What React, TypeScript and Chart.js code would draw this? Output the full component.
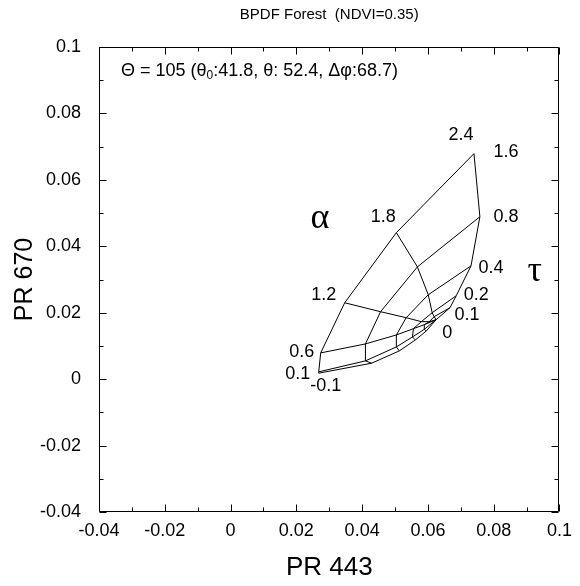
import React, { useEffect, useRef } from "react";
import { Chart, registerables } from "chart.js";

Chart.register(...registerables);

// ---- data ----
const alphaValues = ["-0.1", "0.1", "0.6", "1.2", "1.8", "2.4"];
const tauValues = ["0", "0.1", "0.2", "0.4", "0.8", "1.6"];

// PR 443 / PR 670 for each Angstrom exponent, ordered by tau (0, 0.1, 0.2, 0.4, 0.8, 1.6)
const pr443AlphaM01 = [0.0625, 0.0595, 0.0562, 0.0513, 0.0429, 0.0268];
const pr670AlphaM01 = [0.0179, 0.0145, 0.0118, 0.0085, 0.0048, 0.0018];
const pr443Alpha01 = [0.0625, 0.0589, 0.0553, 0.0504, 0.041, 0.0268];
const pr670Alpha01 = [0.0179, 0.015, 0.0127, 0.0097, 0.0055, 0.0022];
const pr443Alpha06 = [0.0625, 0.0589, 0.0556, 0.0504, 0.041, 0.0274];
const pr670Alpha06 = [0.0179, 0.0164, 0.0152, 0.0133, 0.0106, 0.0079];
const pr443Alpha12 = [0.0625, 0.0604, 0.058, 0.0534, 0.0456, 0.0347];
const pr670Alpha12 = [0.0179, 0.0173, 0.0173, 0.0185, 0.0203, 0.023];
const pr443Alpha18 = [0.0625, 0.0619, 0.0613, 0.0601, 0.0568, 0.0504];
const pr670Alpha18 = [0.0179, 0.0188, 0.02, 0.0254, 0.0338, 0.0441];
const pr443Alpha24 = [0.0625, 0.0667, 0.0686, 0.0731, 0.0758, 0.074];
const pr670Alpha24 = [0.0179, 0.0215, 0.0251, 0.0341, 0.0489, 0.0679];

const xTickLabels = ["-0.04", "-0.02", "0", "0.02", "0.04", "0.06", "0.08", "0.1"];
const yTickLabels = ["-0.04", "-0.02", "0", "0.02", "0.04", "0.06", "0.08", "0.1"];

const chartTitle = "BPDF Forest  (NDVI=0.35)";
const xTitle = "PR 443";
const yTitle = "PR 670";

const SANS = "'Liberation Sans', Arial, Helvetica, sans-serif";
const SERIF = "'Liberation Serif', 'DejaVu Serif', serif";

export default function App() {
  const ref = useRef<HTMLCanvasElement>(null);

  useEffect(() => {
    const canvas = ref.current;
    if (!canvas) return;
    const pr443 = [pr443AlphaM01, pr443Alpha01, pr443Alpha06, pr443Alpha12, pr443Alpha18, pr443Alpha24];
    const pr670 = [pr670AlphaM01, pr670Alpha01, pr670Alpha06, pr670Alpha12, pr670Alpha18, pr670Alpha24];

    const lineStyle = {
      showLine: true,
      borderColor: "#000",
      backgroundColor: "#000",
      borderWidth: 1,
      pointRadius: 0,
      pointHoverRadius: 0,
      fill: false,
      tension: 0,
    };
    const datasets: any[] = [];
    pr443.forEach((xs, i) => {
      datasets.push({
        ...lineStyle,
        label: "alpha " + alphaValues[i],
        data: xs.map((x, j) => ({ x, y: pr670[i][j] })),
      });
    });
    for (let j = 1; j < tauValues.length; j++) {
      datasets.push({
        ...lineStyle,
        label: "tau " + tauValues[j],
        data: pr443.map((xs, i) => ({ x: xs[j], y: pr670[i][j] })),
      });
    }

    // label offsets (pixels) from the vertex they annotate
    const alphaLabelOffsets = [
      [7, 13],
      [-21, 2],
      [-19, -1],
      [-21, -8],
      [-13, -16],
      [-13, -19],
    ];
    const tauLabelOffsets = [
      [11, 13],
      [17, 7],
      [20, -1],
      [20, 2],
      [26, 0],
      [32, -2],
    ];

    const decor = {
      id: "decor",
      afterDraw(chart: any) {
        const { ctx, chartArea: a, scales } = chart;
        const xs = scales.x;
        const ys = scales.y;
        ctx.save();
        ctx.strokeStyle = "#000";
        ctx.lineWidth = 1;
        const L = Math.round(a.left) + 0.5;
        const R = Math.round(a.right) - 0.5;
        const T = Math.round(a.top) + 0.5;
        const B = Math.round(a.bottom) - 0.5;
        ctx.beginPath();
        ctx.rect(L, T, R - L, B - T);
        ctx.stroke();
        // inward ticks: major every 0.02, minor every 0.01
        ctx.beginPath();
        for (let k = 0; k <= 14; k++) {
          const len = k % 2 === 0 ? 7 : 4;
          const vx = xs.min + k * 0.01;
          const px = Math.round(xs.getPixelForValue(vx)) + 0.5;
          ctx.moveTo(px, B);
          ctx.lineTo(px, B - len);
          ctx.moveTo(px, T);
          ctx.lineTo(px, T + len);
          const vy = ys.min + k * 0.01;
          const py = Math.round(ys.getPixelForValue(vy)) + 0.5;
          ctx.moveTo(L, py);
          ctx.lineTo(L + len, py);
          ctx.moveTo(R, py);
          ctx.lineTo(R - len, py);
        }
        ctx.stroke();

        ctx.fillStyle = "#000";
        ctx.textBaseline = "middle";
        // title
        ctx.font = "15px " + SANS;
        ctx.textAlign = "center";
        ctx.fillText(chartTitle, (a.left + a.right) / 2, 15);

        // annotation text
        let tx = xs.getPixelForValue(-0.0333);
        const ty = ys.getPixelForValue(0.0929);
        ctx.textAlign = "left";
        const parts: [string, boolean][] = [
          ["\u0398 = 105 (\u03b8", false],
          ["0", true],
          [":41.8, \u03b8: 52.4, \u0394\u03c6:68.7)", false],
        ];
        parts.forEach(([s, sub]) => {
          ctx.font = (sub ? "12px " : "18px ") + SANS;
          ctx.fillText(s, tx, sub ? ty + 5 : ty);
          tx += ctx.measureText(s).width;
        });

        // alpha labels at the tau = 1.6 end of each alpha line
        ctx.font = "18px " + SANS;
        ctx.textAlign = "center";
        const last = tauValues.length - 1;
        alphaValues.forEach((lab, i) => {
          const px = xs.getPixelForValue(pr443[i][last]) + alphaLabelOffsets[i][0];
          const py = ys.getPixelForValue(pr670[i][last]) + alphaLabelOffsets[i][1];
          ctx.fillText(lab, px, py);
        });
        // tau labels along the alpha = 2.4 line
        const top = alphaValues.length - 1;
        tauValues.forEach((lab, j) => {
          const px = xs.getPixelForValue(pr443[top][j]) + tauLabelOffsets[j][0];
          const py = ys.getPixelForValue(pr670[top][j]) + tauLabelOffsets[j][1];
          ctx.fillText(lab, px, py);
        });

        // greek symbols
        ctx.font = "36px " + SERIF;
        ctx.fillText("\u03b1", xs.getPixelForValue(0.0272), ys.getPixelForValue(0.0485));
        ctx.fillText("\u03c4", xs.getPixelForValue(0.0925), ys.getPixelForValue(0.0325));
        ctx.restore();
      },
    };

    const chart = new Chart(canvas, {
      type: "scatter",
      data: { datasets },
      options: {
        animation: false,
        responsive: false,
        devicePixelRatio: 1,
        events: [],
        layout: { padding: { top: 47, right: 18, left: 0, bottom: 0 } },
        plugins: {
          legend: { display: false },
          title: { display: false },
          tooltip: { enabled: false },
        },
        scales: {
          x: {
            type: "linear",
            min: -0.04,
            max: 0.1,
            grid: { display: false, drawTicks: false },
            border: { display: false },
            ticks: {
              stepSize: 0.02,
              padding: 8,
              color: "#000",
              font: { family: SANS, size: 18 },
              maxRotation: 0,
              callback: (_v: any, i: number) => xTickLabels[i],
            },
            title: {
              display: true,
              text: xTitle,
              color: "#000",
              font: { family: SANS, size: 26 },
              padding: { top: 0, bottom: 3 },
            },
            afterFit: (s: any) => {
              s.height = 74;
            },
          },
          y: {
            type: "linear",
            min: -0.04,
            max: 0.1,
            grid: { display: false, drawTicks: false },
            border: { display: false },
            ticks: {
              stepSize: 0.02,
              padding: 18,
              color: "#000",
              font: { family: SANS, size: 18 },
              callback: (_v: any, i: number) => yTickLabels[i],
            },
            title: {
              display: true,
              text: yTitle,
              color: "#000",
              font: { family: SANS, size: 25 },
              padding: { top: 10, bottom: 0 },
            },
            afterFit: (s: any) => {
              s.width = 99;
            },
          },
        },
      },
      plugins: [decor],
    });
    return () => chart.destroy();
  }, []);

  return (
    <div style={{ position: "fixed", left: 0, top: 0, width: 580, height: 586, background: "#fff" }}>
      <canvas ref={ref} width={580} height={586} style={{ display: "block", width: 580, height: 586 }} />
    </div>
  );
}
